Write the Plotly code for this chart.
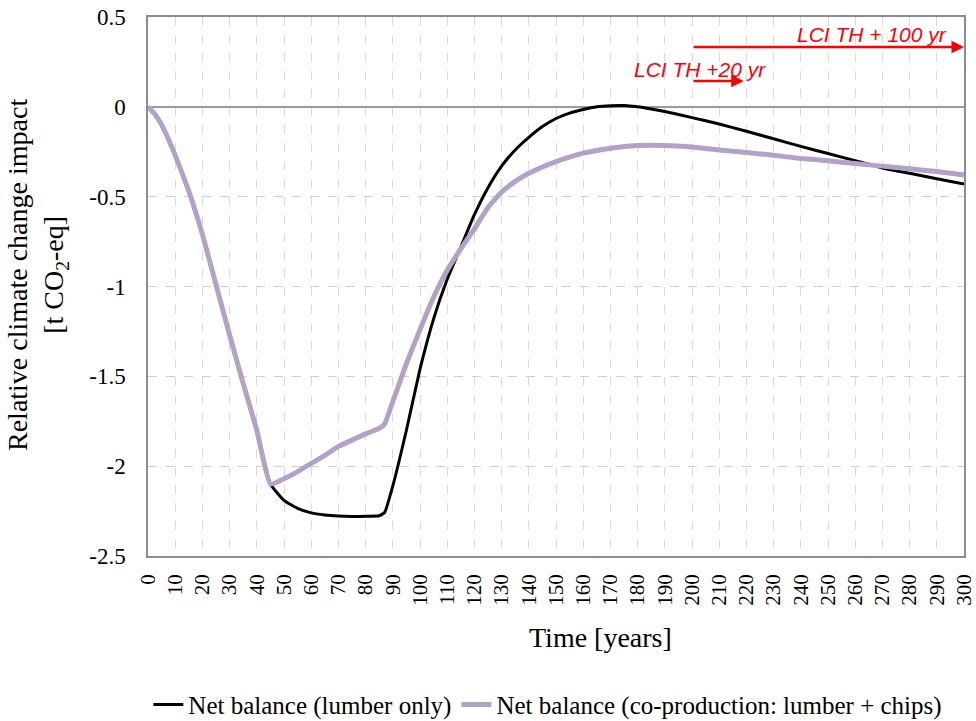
import plotly.graph_objects as go

# ---- data ----
t_lumber = [0, 2.5, 5, 7.5, 10, 15, 20, 25, 30, 35, 40, 45, 50, 55, 60, 65, 70, 75, 80, 85, 87,
            90, 95, 100, 105, 110, 115, 120, 125, 130, 135, 140, 145, 150, 155, 160, 165,
            170, 175, 180, 185, 190, 200, 210, 220, 230, 240, 250, 260, 270, 280, 290, 300]
v_lumber = [0, -0.04, -0.10, -0.18, -0.27, -0.47, -0.71, -0.99, -1.27, -1.54, -1.80, -2.10, -2.19,
            -2.235, -2.26, -2.272, -2.278, -2.28, -2.279, -2.276, -2.258,
            -2.11, -1.80, -1.46, -1.18, -0.96, -0.78, -0.60, -0.45, -0.33, -0.24, -0.17,
            -0.11, -0.065, -0.035, -0.015, 0.0, 0.006, 0.007, 0.0, -0.012, -0.026, -0.06,
            -0.096, -0.136, -0.178, -0.22, -0.26, -0.30, -0.34, -0.37, -0.40, -0.43]

t_coprod = [0, 2.5, 5, 7.5, 10, 15, 20, 25, 30, 35, 40, 45, 50, 55, 60, 65, 70, 75, 80, 85, 87,
            90, 95, 100, 105, 110, 115, 120, 125, 130, 135, 140, 145, 150, 160, 170, 180,
            190, 200, 210, 220, 230, 240, 250, 260, 270, 280, 290, 300]
v_coprod = [0, -0.04, -0.10, -0.18, -0.27, -0.47, -0.71, -0.99, -1.27, -1.54, -1.80, -2.10, -2.07,
            -2.03, -1.985, -1.94, -1.89, -1.855, -1.82, -1.79, -1.765,
            -1.64, -1.43, -1.24, -1.06, -0.91, -0.79, -0.68, -0.56, -0.475, -0.415, -0.37,
            -0.335, -0.305, -0.258, -0.23, -0.215, -0.215, -0.224, -0.24, -0.254, -0.27,
            -0.287, -0.30, -0.316, -0.33, -0.345, -0.36, -0.38]

x_ticks = list(range(0, 301, 10))
y_ticks = [0.5, 0, -0.5, -1, -1.5, -2, -2.5]
y_ticktext = ["0.5", "0", "-0.5", "-1", "-1.5", "-2", "-2.5"]

series_names = ["Net balance (lumber only)", "Net balance (co-production: lumber + chips)"]

# arrow annotations (start year, end year, level)
arrow_100 = (200, 300, 0.333)
arrow_20 = (200, 219, 0.144)

SERIF = "Liberation Serif"

fig = go.Figure()
fig.add_trace(go.Scatter(x=t_lumber, y=v_lumber, mode="lines", name=series_names[0],
                         line=dict(color="#000000", width=3, shape="spline", smoothing=0.4)))
fig.add_trace(go.Scatter(x=t_coprod, y=v_coprod, mode="lines", name=series_names[1],
                         line=dict(color="#b3a2c7", width=5, shape="spline", smoothing=0.4)))

fig.update_layout(
    width=976, height=721,
    margin=dict(l=148, r=12, t=17, b=165, autoexpand=False),
    paper_bgcolor="white", plot_bgcolor="white",
    font=dict(family=SERIF, size=23, color="#000000"),
    showlegend=True,
    legend=dict(orientation="h", x=0.49, xanchor="center", y=-0.276, yanchor="middle",
                font=dict(family=SERIF, size=25), itemwidth=30, tracegroupgap=0),
)

fig.update_xaxes(
    range=[0, 300], tickmode="array", tickvals=x_ticks, ticktext=[str(v) for v in x_ticks],
    tickangle=-90, tickfont=dict(family=SERIF, size=21), automargin=False,
    ticklabeloverflow="allow",
    showgrid=True, gridcolor="#d9d9d9", griddash="dash", gridwidth=1,
    showline=True, linecolor="#8c8c8c", linewidth=1.5, mirror=True,
    zeroline=False, ticks="outside", ticklen=8, tickcolor="rgba(0,0,0,0)",
)
fig.update_yaxes(
    range=[-2.5, 0.5], tickmode="array", tickvals=y_ticks, ticktext=y_ticktext,
    tickfont=dict(family=SERIF, size=23), automargin=False,
    ticklabeloverflow="allow",
    showgrid=True, gridcolor="#cfcfcf", griddash="dash", gridwidth=1,
    showline=True, linecolor="#8c8c8c", linewidth=1.5, mirror=True,
    zeroline=True, zerolinecolor="#9a9a9a", zerolinewidth=1.5,
    ticks="outside", ticklen=16, tickcolor="rgba(0,0,0,0)",
)

annotations = [
    dict(text="Time [years]", xref="paper", yref="paper", x=(600 - 148) / 816,
         y=(556 - 637) / 539, xanchor="center", yanchor="middle", showarrow=False,
         font=dict(family=SERIF, size=28)),
    dict(text="Relative climate change impact<br>[t CO<sub>2</sub>-eq]", xref="paper",
         yref="paper", x=(37 - 148) / 816, y=(556 - 275) / 539, xanchor="center",
         yanchor="middle", textangle=-90, showarrow=False,
         font=dict(family=SERIF, size=28)),
    dict(text="<i>LCI TH + 100 yr</i>", xref="x", yref="paper", x=266, y=(556 - 34) / 539,
         xanchor="center", yanchor="middle", showarrow=False,
         font=dict(family="Liberation Sans", size=21, color="#ff0000")),
    dict(text="<i>LCI TH +20 yr</i>", xref="x", yref="paper", x=203, y=(556 - 69) / 539,
         xanchor="center", yanchor="middle", showarrow=False,
         font=dict(family="Liberation Sans", size=21, color="#ff0000")),
    dict(x=arrow_100[1], y=arrow_100[2], ax=arrow_100[0], ay=arrow_100[2], xref="x", yref="y",
         axref="x", ayref="y", showarrow=True, arrowhead=2, arrowsize=1, arrowwidth=2.5,
         arrowcolor="#ff0000", text=""),
    dict(x=arrow_20[1], y=arrow_20[2], ax=arrow_20[0], ay=arrow_20[2], xref="x", yref="y",
         axref="x", ayref="y", showarrow=True, arrowhead=2, arrowsize=1, arrowwidth=2.5,
         arrowcolor="#ff0000", text=""),
]
fig.update_layout(annotations=annotations)

fig.write_html("out.html", config={"displayModeBar": False},
               post_script="document.body.style.margin='0';document.body.style.overflow='hidden';")
